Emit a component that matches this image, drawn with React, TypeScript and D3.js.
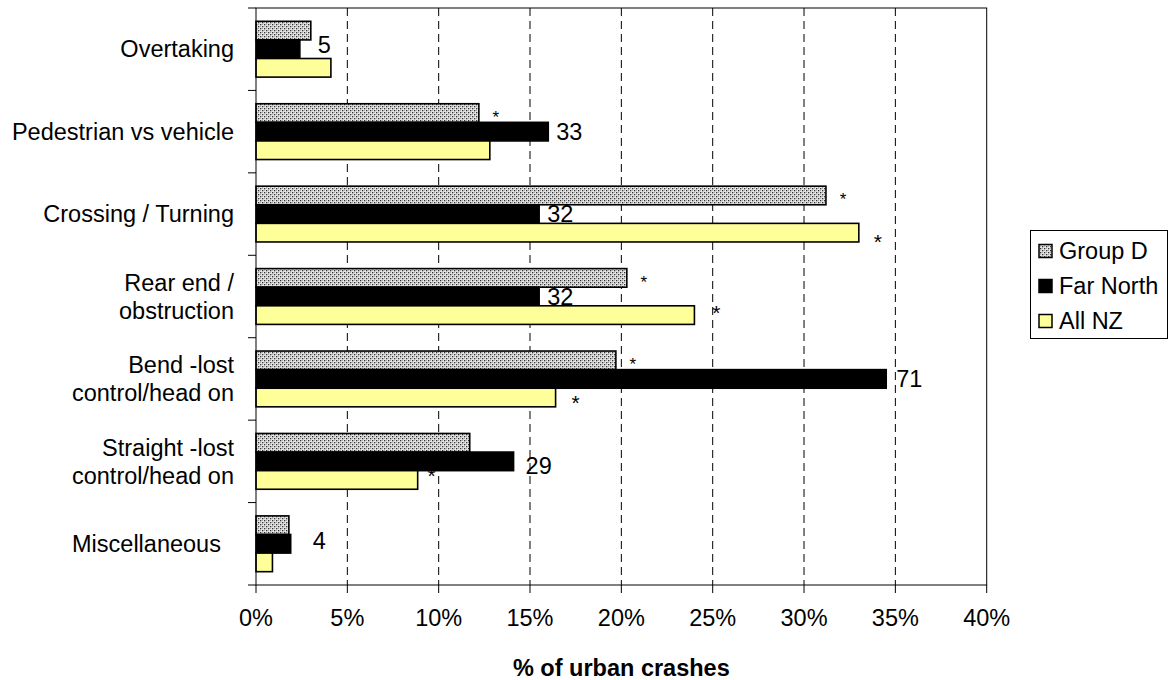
import React from 'react';
import * as d3 from 'd3';

// ---------- data ----------
const categories = [
  'Overtaking',
  'Pedestrian vs vehicle',
  'Crossing / Turning',
  'Rear end / obstruction',
  'Bend -lost control/head on',
  'Straight -lost control/head on',
  'Miscellaneous',
];
const categoryLines: string[][] = [
  ['Overtaking'],
  ['Pedestrian vs vehicle'],
  ['Crossing / Turning'],
  ['Rear end /', 'obstruction'],
  ['Bend -lost', 'control/head on'],
  ['Straight -lost', 'control/head on'],
  ['Miscellaneous  '],
];
const seriesNames = ['Group D', 'Far North', 'All NZ'];
const groupD = [3.0, 12.2, 31.2, 20.3, 19.7, 11.7, 1.8];
const farNorth = [2.4, 16.0, 15.5, 15.5, 34.5, 14.1, 1.9];
const allNZ = [4.1, 12.8, 33.0, 24.0, 16.4, 8.85, 0.9];
const farNorthCounts = ['5', '33', '32', '32', '71', '29', '4'];
const sigGroupD = [false, true, true, true, true, false, false];
const sigAllNZ = [false, false, true, true, true, true, false];
const xTicks = [0, 5, 10, 15, 20, 25, 30, 35, 40];
const xTickLabels = ['0%', '5%', '10%', '15%', '20%', '25%', '30%', '35%', '40%'];
const xTitle = '% of urban crashes';

// ---------- layout (not data) ----------
const W = 1170, H = 680;
const L = 256, R = 986.7, T = 8, B = 585;
const FONT = '"Liberation Sans", Arial, Helvetica, sans-serif';
const FS = 23.5;
// per-category label nudges [dx from bar end, dy]
const countNudge = [[18, -4], [8, 0], [8, 0], [8, 0], [10, 0], [12, 4], [22, -3]];
const nzStarNudge = [[0, 0], [0, 0], [19, 4], [22, -7], [20, 1], [14, -9], [0, 0]];

const fills = ['url(#dots)', '#000000', '#FFFF99'];

export default function App() {
  const x = d3.scaleLinear().domain([0, 40]).range([L, R]);
  const y = d3.scaleBand<string>().domain(categories).range([T, B]).padding(0);
  const inner = d3.scaleBand<string>().domain(seriesNames).range([0, y.bandwidth()])
    .paddingInner(0).paddingOuter(0.716);
  const valuesBySeries = [groupD, farNorth, allNZ];
  const bw = inner.bandwidth();
  const step = y.step();

  return (
    <svg width={W} height={H} style={{ position: 'absolute', left: 0, top: 0, background: '#fff' }}
      fontFamily={FONT}>
      <defs>
        <pattern id="dots" width={4} height={4} patternUnits="userSpaceOnUse">
          <rect width={4} height={4} fill="#e6e6e6" />
          <rect x={0} y={0} width={1.3} height={1.3} fill="#333" />
          <rect x={2} y={2} width={1.3} height={1.3} fill="#333" />
          <rect x={2} y={0} width={1} height={1} fill="#aaa" />
          <rect x={0} y={2} width={1} height={1} fill="#aaa" />
        </pattern>
      </defs>
      <rect width={W} height={H} fill="#fff" />

      {/* gridlines */}
      {xTicks.slice(1, -1).map((t) => (
        <line key={'g' + t} x1={x(t)} x2={x(t)} y1={T} y2={B} stroke="#000" strokeWidth={1}
          strokeDasharray="8,5" />
      ))}

      {/* All NZ asterisks drawn beneath bars */}
      {categories.map((c, i) => sigAllNZ[i] ? (
        <text key={'sn' + c} x={x(allNZ[i]) + nzStarNudge[i][0]}
          y={(y(c) as number) + (inner('All NZ') as number) + bw / 2 + nzStarNudge[i][1] + 21 * 0.57}
          fontSize={21} textAnchor="middle" fill="#000">*</text>
      ) : null)}

      {/* bars */}
      {categories.map((c, i) => (
        <g key={'b' + c}>
          {seriesNames.map((s, k) => (
            <rect key={s} x={x(0)} y={(y(c) as number) + (inner(s) as number)}
              width={x(valuesBySeries[k][i]) - x(0)} height={bw}
              fill={fills[k]} stroke="#000" strokeWidth={1.6} />
          ))}
        </g>
      ))}

      {/* Group D asterisks */}
      {categories.map((c, i) => sigGroupD[i] ? (
        <text key={'sg' + c} x={x(groupD[i]) + 17}
          y={(y(c) as number) + (inner('Group D') as number) + bw / 2 + 17 * 0.57}
          fontSize={17} textAnchor="middle" fill="#000">*</text>
      ) : null)}

      {/* Far North counts */}
      {categories.map((c, i) => (
        <text key={'fc' + c} x={x(farNorth[i]) + countNudge[i][0]}
          y={(y(c) as number) + (inner('Far North') as number) + bw / 2 + countNudge[i][1]}
          dy="0.35em" fontSize={FS} fill="#000">{farNorthCounts[i]}</text>
      ))}

      {/* plot border */}
      <rect x={L} y={T} width={R - L} height={B - T} fill="none" stroke="#000" strokeWidth={1} />

      {/* y axis ticks */}
      {d3.range(categories.length + 1).map((k) => (
        <line key={'yt' + k} x1={L - 8} x2={L} y1={T + k * step} y2={T + k * step} stroke="#000" />
      ))}
      {/* x axis ticks */}
      {xTicks.map((t) => (
        <line key={'xt' + t} x1={x(t)} x2={x(t)} y1={B} y2={B + 8} stroke="#000" />
      ))}

      {/* category labels */}
      {categories.map((c, i) => {
        const lines = categoryLines[i];
        const cy = (y(c) as number) + y.bandwidth() / 2;
        const lh = 28;
        return (
          <text key={'cl' + c} fontSize={FS} textAnchor="end" fill="#000" style={{ whiteSpace: 'pre' }}>
            {lines.map((ln, j) => (
              <tspan key={j} x={L - 22} y={cy + (j - (lines.length - 1) / 2) * lh} dy="0.35em">{ln}</tspan>
            ))}
          </text>
        );
      })}

      {/* x tick labels */}
      {xTicks.map((t, i) => (
        <text key={'xl' + t} x={x(t)} y={626} fontSize={FS} textAnchor="middle" fill="#000">
          {xTickLabels[i]}
        </text>
      ))}
      <text x={(L + R) / 2} y={676} fontSize={FS} fontWeight="bold" textAnchor="middle" fill="#000">
        {xTitle}
      </text>

      {/* legend */}
      <rect x={1030.5} y={230.5} width={137} height={108} fill="#fff" stroke="#000" strokeWidth={1} />
      {seriesNames.map((s, k) => (
        <g key={'lg' + s}>
          <rect x={1039} y={251 + k * 35 - 6.5} width={13} height={13} fill={fills[k]} stroke="#000"
            strokeWidth={1.5} />
          <text x={1059} y={251 + k * 35} dy="0.35em" fontSize={FS} fill="#000">{s}</text>
        </g>
      ))}
    </svg>
  );
}
